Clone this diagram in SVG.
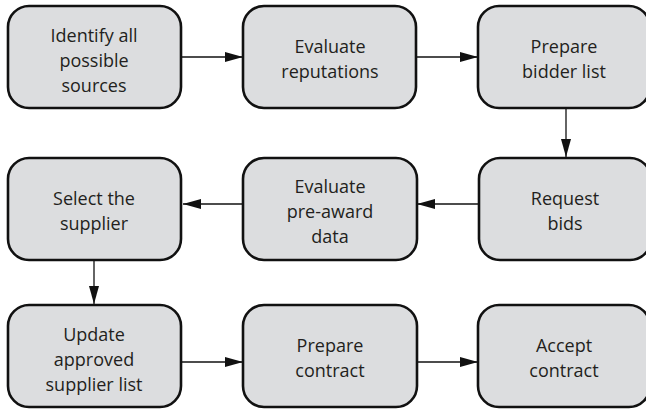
<svg xmlns="http://www.w3.org/2000/svg" width="646" height="409" viewBox="0 0 646 409">
<style>
.box{fill:#dcdddf;stroke:#111;stroke-width:2.6}
.t{font-family:"Open Sans","Liberation Sans",sans-serif;font-size:18px;fill:#231f20;text-anchor:middle}
.c{stroke:#111;stroke-width:1.3;fill:none;marker-end:url(#ah)}
</style>
<defs>
<marker id="ah" markerUnits="userSpaceOnUse" markerWidth="18" markerHeight="10" refX="18" refY="5" orient="auto">
<path d="M0,0 L18,5 L0,10 z" fill="#111"/>
</marker>
</defs>
<rect width="646" height="409" fill="#fff"/>
<g id="connectors">
<line class="c" x1="181" y1="57" x2="243" y2="57"/>
<line class="c" x1="416" y1="57" x2="478" y2="57"/>
<line class="c" x1="566" y1="108" x2="566" y2="157"/>
<line class="c" x1="479" y1="204" x2="417" y2="204"/>
<line class="c" x1="243" y1="204" x2="183" y2="204"/>
<line class="c" x1="94" y1="260" x2="94" y2="304"/>
<line class="c" x1="181" y1="362" x2="243" y2="362"/>
<line class="c" x1="416" y1="362" x2="478" y2="362"/>
</g>
<g id="n1"><rect class="box" x="8" y="6" width="173" height="102" rx="21"/>
<text class="t" x="94" y="42">Identify all</text><text class="t" x="94" y="67">possible</text><text class="t" x="94" y="92">sources</text></g>
<g id="n2"><rect class="box" x="243" y="6" width="173" height="102" rx="21"/>
<text class="t" x="330" y="53">Evaluate</text><text class="t" x="330" y="78">reputations</text></g>
<g id="n3"><rect class="box" x="478" y="6" width="172" height="102" rx="21"/>
<text class="t" x="564" y="53">Prepare</text><text class="t" x="564" y="78">bidder list</text></g>
<g id="n4"><rect class="box" x="479" y="158" width="172" height="102" rx="21"/>
<text class="t" x="565" y="205">Request</text><text class="t" x="565" y="230">bids</text></g>
<g id="n5"><rect class="box" x="243" y="158" width="174" height="102" rx="21"/>
<text class="t" x="330" y="193">Evaluate</text><text class="t" x="330" y="218">pre-award</text><text class="t" x="330" y="243">data</text></g>
<g id="n6"><rect class="box" x="8" y="158" width="173" height="102" rx="21"/>
<text class="t" x="94" y="205">Select the</text><text class="t" x="94" y="230">supplier</text></g>
<g id="n7"><rect class="box" x="8" y="305" width="173" height="102" rx="21"/>
<text class="t" x="94" y="341">Update</text><text class="t" x="94" y="366">approved</text><text class="t" x="94" y="391">supplier list</text></g>
<g id="n8"><rect class="box" x="243" y="305" width="174" height="102" rx="21"/>
<text class="t" x="330" y="352">Prepare</text><text class="t" x="330" y="377">contract</text></g>
<g id="n9"><rect class="box" x="478" y="305" width="172" height="102" rx="21"/>
<text class="t" x="564" y="352">Accept</text><text class="t" x="564" y="377">contract</text></g>
</svg>
